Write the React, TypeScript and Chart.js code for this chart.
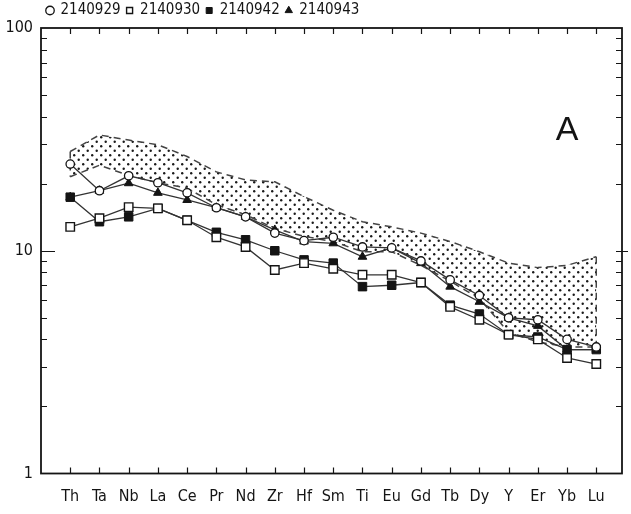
import { useEffect, useRef } from 'react';
import { Chart, registerables } from 'chart.js';

Chart.register(...registerables);

const categories = ['Th', 'Ta', 'Nb', 'La', 'Ce', 'Pr', 'Nd', 'Zr', 'Hf', 'Sm', 'Ti', 'Eu', 'Gd', 'Tb', 'Dy', 'Y', 'Er', 'Yb', 'Lu'];

const s2140929 = [24.5, 18.6, 21.7, 20.2, 18.2, 15.6, 14.2, 12.0, 11.1, 11.5, 10.4, 10.3, 9.0, 7.4, 6.3, 5.0, 4.9, 4.0, 3.7];
const s2140930 = [12.8, 14.0, 15.7, 15.5, 13.7, 11.5, 10.4, 8.2, 8.8, 8.3, 7.8, 7.8, 7.2, 5.6, 4.9, 4.2, 4.0, 3.3, 3.1];
const s2140942 = [17.4, 13.5, 14.2, 15.5, 13.7, 12.1, 11.2, 10.0, 9.1, 8.8, 6.9, 7.0, 7.2, 5.7, 5.2, 4.2, 4.1, 3.6, 3.6];
const s2140943 = [17.4, 18.6, 20.1, 18.2, 16.9, 15.6, 14.2, 12.4, 11.0, 10.8, 9.4, 10.3, 8.8, 6.9, 5.9, 5.0, 4.6, 3.6, 3.6];

const bandUpper = [27.9, 33.1, 31.4, 29.9, 26.5, 22.6, 20.8, 20.4, 17.5, 15.2, 13.5, 12.8, 12.0, 11.0, 9.9, 8.8, 8.4, 8.6, 9.4];
const bandLower = [21.5, 24.2, 21.8, 20.2, 19.1, 16.1, 14.5, 12.6, 11.6, 11.0, 9.9, 9.9, 8.6, 7.3, 6.1, 4.3, 3.9, 3.7, 3.7];

const yTickValues = [1, 2, 3, 4, 5, 6, 7, 8, 9, 10, 20, 30, 40, 50, 60, 70, 80, 90, 100];
const yLabelValues = [1, 10, 100];

const panelLabel = 'A';

const FONT = "'DejaVu Sans Condensed', 'Liberation Sans Narrow', sans-serif";

const toPts = (arr: number[]) => arr.map((v, i) => ({ x: i, y: v }));

const framePlugin = {
  id: 'frameTicks',
  afterDatasetsDraw(chart: any) {
    const { ctx, chartArea: a, scales } = chart;
    const xs = scales.x;
    const ys = scales.y;
    ctx.save();
    ctx.strokeStyle = '#141414';
    ctx.lineWidth = 1.8;
    ctx.strokeRect(a.left, a.top, a.right - a.left, a.bottom - a.top);
    ctx.lineWidth = 1.2;
    ctx.beginPath();
    categories.forEach((_, i) => {
      const px = Math.round(xs.getPixelForValue(i)) + 0.5;
      ctx.moveTo(px, a.bottom);
      ctx.lineTo(px, a.bottom - 6);
      ctx.moveTo(px, a.top);
      ctx.lineTo(px, a.top + 6);
    });
    yTickValues.forEach((v) => {
      if (v === 1 || v === 100) return;
      const py = Math.round(ys.getPixelForValue(v)) + 0.5;
      const major = yLabelValues.includes(v);
      ctx.moveTo(a.left, py);
      ctx.lineTo(a.left + (major ? 14 : 6), py);
      ctx.moveTo(a.right - 6, py);
      ctx.lineTo(a.right + (major ? 6 : 0), py);
    });
    ctx.stroke();
    ctx.fillStyle = '#141414';
    ctx.font = "34px 'Liberation Sans', sans-serif";
    ctx.textAlign = 'center';
    ctx.textBaseline = 'middle';
    ctx.fillText(panelLabel, a.right - 55, a.top + 103);
    ctx.restore();
  },
};

export default function App() {
  const ref = useRef<HTMLCanvasElement | null>(null);

  useEffect(() => {
    if (!ref.current) return;
    const tile = document.createElement('canvas');
    tile.width = 9;
    tile.height = 9;
    const tctx = tile.getContext('2d')!;
    tctx.fillStyle = '#1a1a1a';
    [[2.2, 2.2], [6.7, 6.7]].forEach(([cx, cy]) => {
      tctx.beginPath();
      tctx.arc(cx, cy, 1.2, 0, Math.PI * 2);
      tctx.fill();
    });
    const pattern = ref.current.getContext('2d')!.createPattern(tile, 'repeat');

    const lineCol = '#333333';
    const markCol = '#141414';
    const last = categories.length - 1;

    const chart = new Chart(ref.current, {
      type: 'line',
      data: {
        datasets: [
          {
            label: '2140929',
            data: toPts(s2140929),
            borderColor: lineCol,
            borderWidth: 1.3,
            pointStyle: 'circle',
            pointRadius: 4.2,
            pointBackgroundColor: '#ffffff',
            pointBorderColor: markCol,
            pointBorderWidth: 1.3,
            tension: 0,
          },
          {
            label: '2140930',
            data: toPts(s2140930),
            borderColor: lineCol,
            borderWidth: 1.3,
            pointStyle: 'rect',
            pointRadius: 6,
            pointBackgroundColor: '#ffffff',
            pointBorderColor: markCol,
            pointBorderWidth: 1.4,
            tension: 0,
          },
          {
            label: '2140942',
            data: toPts(s2140942),
            borderColor: lineCol,
            borderWidth: 1.3,
            pointStyle: 'rect',
            pointRadius: 6,
            pointBackgroundColor: markCol,
            pointBorderColor: markCol,
            pointBorderWidth: 1,
            tension: 0,
          },
          {
            label: '2140943',
            data: toPts(s2140943),
            borderColor: lineCol,
            borderWidth: 1.3,
            pointStyle: 'triangle',
            pointRadius: 5,
            pointBackgroundColor: markCol,
            pointBorderColor: markCol,
            pointBorderWidth: 1,
            tension: 0,
          },
          {
            label: 'band-upper',
            data: toPts(bandUpper),
            borderColor: '#444444',
            borderWidth: 1.5,
            borderDash: [7, 5],
            pointRadius: 0,
            fill: false,
            tension: 0,
          },
          {
            label: 'band-lower',
            data: toPts(bandLower),
            borderColor: '#444444',
            borderWidth: 1.5,
            borderDash: [7, 5],
            pointRadius: 0,
            backgroundColor: pattern as any,
            fill: '-1',
            tension: 0,
          },
          {
            label: 'band-edge-left',
            data: [
              { x: 0, y: bandUpper[0] },
              { x: 0, y: bandLower[0] },
            ],
            borderColor: '#444444',
            borderWidth: 1.5,
            borderDash: [7, 5],
            pointRadius: 0,
            fill: false,
          },
          {
            label: 'band-edge-right',
            data: [
              { x: last, y: bandUpper[last] },
              { x: last, y: bandLower[last] },
            ],
            borderColor: '#444444',
            borderWidth: 1.5,
            borderDash: [7, 5],
            pointRadius: 0,
            fill: false,
          },
        ],
      },
      options: {
        animation: false,
        responsive: false,
        events: [],
        layout: { padding: { left: 0, right: 9, top: -3, bottom: 0 } },
        plugins: {
          legend: {
            position: 'top',
            align: 'start',
            fullSize: false,
            labels: {
              usePointStyle: true,
              boxWidth: 6,
              boxHeight: 6,
              padding: 6,
              color: '#141414',
              font: { size: 15, family: FONT },
              filter: (item: any) => !String(item.text).startsWith('band'),
            },
          },
          tooltip: { enabled: false },
        },
        scales: {
          x: {
            type: 'linear',
            min: -1,
            max: 18.88,
            grid: { display: false },
            border: { display: false },
            afterBuildTicks: (s: any) => {
              s.ticks = categories.map((_, i) => ({ value: i }));
            },
            afterFit: (s: any) => {
              s.height = 40.5;
            },
            ticks: {
              autoSkip: false,
              maxRotation: 0,
              padding: 6,
              color: '#141414',
              font: { size: 16, family: FONT },
              callback: (v: any) => categories[v as number] ?? '',
            },
          },
          y: {
            type: 'logarithmic',
            min: 1,
            max: 100,
            grid: { display: false, drawTicks: false },
            border: { display: false },
            afterBuildTicks: (s: any) => {
              s.ticks = yTickValues.map((v) => ({ value: v }));
            },
            afterFit: (s: any) => {
              s.width = 41;
            },
            ticks: {
              autoSkip: false,
              padding: 8,
              color: '#141414',
              font: { size: 16, family: FONT },
              callback: (v: any) => (yLabelValues.includes(Number(v)) ? String(v) : ''),
            },
          },
        },
      },
      plugins: [framePlugin],
    });
    return () => chart.destroy();
  }, []);

  return (
    <div style={{ position: 'absolute', left: 0, top: 0, width: 631, height: 514, background: '#fff' }}>
      <canvas ref={ref} width={631} height={514} />
    </div>
  );
}
